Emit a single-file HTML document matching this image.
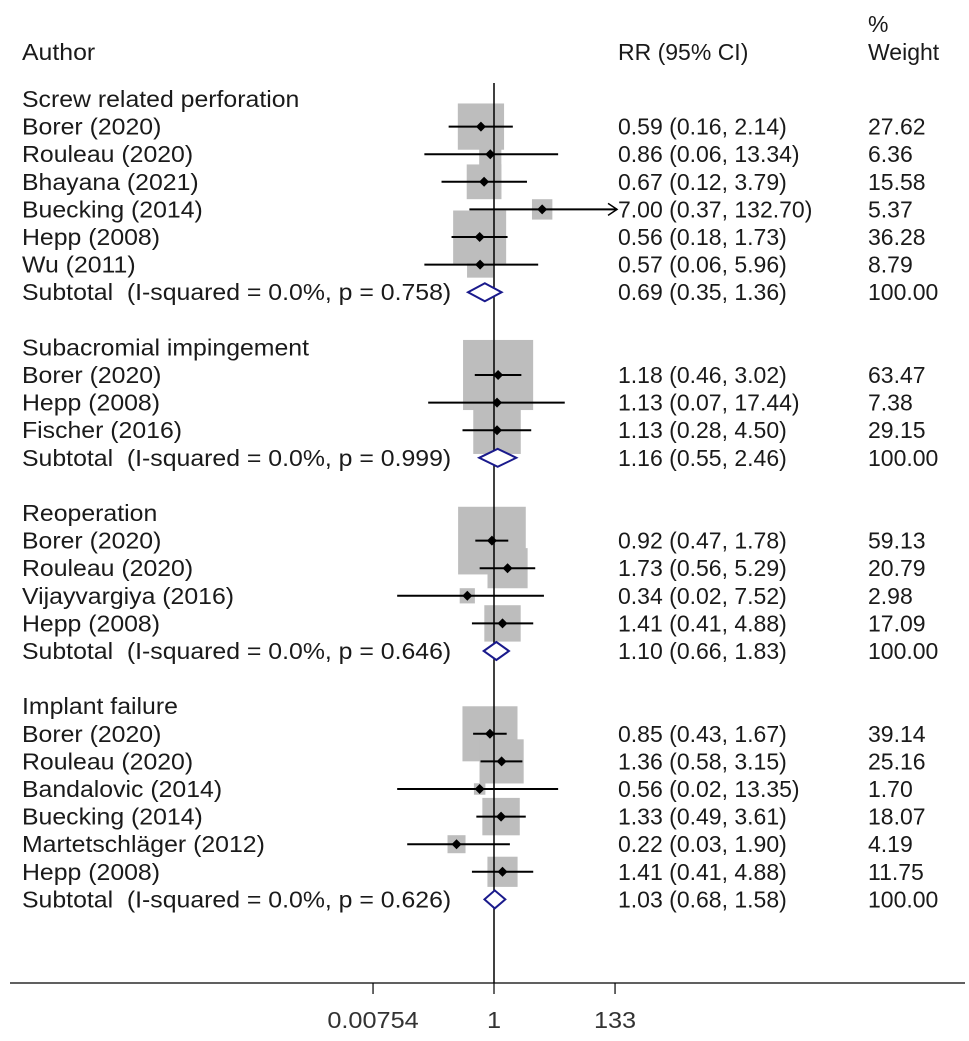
<!DOCTYPE html>
<html><head><meta charset="utf-8"><style>
html,body{margin:0;padding:0;background:#fff;}
svg{display:block;font-family:"Liberation Sans",Arial,sans-serif;}
</style></head><body>
<svg id="plot" width="969" height="1041" viewBox="0 0 969 1041"></svg>
<script>
const rowLabels=["Screw related perforation","Borer (2020)","Rouleau (2020)","Bhayana (2021)","Buecking (2014)","Hepp (2008)","Wu (2011)","Subtotal\u00a0 (I-squared = 0.0%, p = 0.758)","",
"Subacromial impingement","Borer (2020)","Hepp (2008)","Fischer (2016)","Subtotal\u00a0 (I-squared = 0.0%, p = 0.999)","",
"Reoperation","Borer (2020)","Rouleau (2020)","Vijayvargiya (2016)","Hepp (2008)","Subtotal\u00a0 (I-squared = 0.0%, p = 0.646)","",
"Implant failure","Borer (2020)","Rouleau (2020)","Bandalovic (2014)","Buecking (2014)","Martetschläger (2012)","Hepp (2008)","Subtotal\u00a0 (I-squared = 0.0%, p = 0.626)"];
const rowType=["h","s","s","s","s","s","s","t","",
"h","s","s","s","t","",
"h","s","s","s","s","t","",
"h","s","s","s","s","s","s","t"];
const rr=[null,0.59,0.86,0.67,7.00,0.56,0.57,0.69,null,null,1.18,1.13,1.13,1.16,null,null,0.92,1.73,0.34,1.41,1.10,null,null,0.85,1.36,0.56,1.33,0.22,1.41,1.03];
const lo=[null,0.16,0.06,0.12,0.37,0.18,0.06,0.35,null,null,0.46,0.07,0.28,0.55,null,null,0.47,0.56,0.02,0.41,0.66,null,null,0.43,0.58,0.02,0.49,0.03,0.41,0.68];
const hi=[null,2.14,13.34,3.79,132.70,1.73,5.96,1.36,null,null,3.02,17.44,4.50,2.46,null,null,1.78,5.29,7.52,4.88,1.83,null,null,1.67,3.15,13.35,3.61,1.90,4.88,1.58];
const weights=[null,27.62,6.36,15.58,5.37,36.28,8.79,100.00,null,null,63.47,7.38,29.15,100.00,null,null,59.13,20.79,2.98,17.09,100.00,null,null,39.14,25.16,1.70,18.07,4.19,11.75,100.00];
const tickValues=[0.00754,1,133];
const tickLabels=["0.00754","1","133"];

const NS="http://www.w3.org/2000/svg";
const svg=document.getElementById('plot');
function el(t,a,p){const e=document.createElementNS(NS,t);for(const k in a)e.setAttribute(k,a[k]);(p||svg).appendChild(e);return e;}
const x0=494, pxPerLn=24.75;
function X(v){return x0+Math.log(v)*pxPerLn;}
function Y(i){return 107+i*27.6;}
const fmt=v=>v.toFixed(2);
function txt(x,y,s,sx,anchor){
  const e=el('text',{transform:`translate(${x},${y}) scale(${sx},1)`,'font-size':23,fill:'#1a1a1a','text-anchor':anchor||'start'});
  e.textContent=s;return e;
}
let t;
t=txt(22,60,'Author',1.08);

t=txt(618,60,'RR (95% CI)',1.0);

t=txt(868,32,'%',1.0);

t=txt(868,60,'Weight',1.0);


for(let i=0;i<rowLabels.length;i++){
  if(rowType[i]==='s'){
    const s=8.8*Math.sqrt(weights[i]);
    const b=el('rect',{x:X(rr[i])-s/2,y:Y(i)-8-s/2,width:s,height:s,fill:'#bdbdbd'});
    
    
  }
}
let ln=el('line',{x1:x0,y1:83,x2:x0,y2:983,stroke:'#000','stroke-width':1.5});


const xMax=X(tickValues[2]);
for(let i=0;i<rowLabels.length;i++){
  const y=Y(i), cy=y-8;
  if(rowLabels[i]){
    const tx=txt(22,y,rowLabels[i],1.08);
    
    
  }
  if(rowType[i]==='s'||rowType[i]==='t'){
    const a=txt(618,y,fmt(rr[i])+' ('+fmt(lo[i])+', '+fmt(hi[i])+')',1.0);
    
    const w=txt(868,y,fmt(weights[i]),1.0);
    
  }
  if(rowType[i]==='s'){
    const arrow=hi[i]>=0.9*tickValues[2];
    const x2=arrow?xMax+2:X(hi[i]);
    const l=el('line',{x1:X(lo[i]),y1:cy,x2:x2,y2:cy,stroke:'#000','stroke-width':2});
    
    if(arrow){
      const ah=el('path',{d:`M${x2-9} ${cy-6} L${x2} ${cy} L${x2-9} ${cy+6}`,stroke:'#000','stroke-width':1.5,fill:'none'});
      
    }
    const px=X(rr[i]);
    const d=el('path',{d:`M${px-5} ${cy} L${px} ${cy-5} L${px+5} ${cy} L${px} ${cy+5}Z`,fill:'#000'});
    
  }
  if(rowType[i]==='t'){
    const a=X(lo[i]),b=X(hi[i]),c=X(rr[i]);
    const d=el('path',{d:`M${a} ${cy} L${c} ${cy-9} L${b} ${cy} L${c} ${cy+9}Z`,fill:'#fff',stroke:'#1a1a8c','stroke-width':2});
    
  }
}
let ax=el('line',{x1:10,y1:983,x2:965,y2:983,stroke:'#000','stroke-width':1.2});

for(let k=0;k<tickValues.length;k++){
  const tx=X(tickValues[k]);
  const tk=el('line',{x1:tx,y1:983,x2:tx,y2:994,stroke:'#000','stroke-width':1.2});
  
  const tl=txt(tx,1028,tickLabels[k],1.1,'middle');
  tl.setAttribute('fill','#333');
  
}
</script>
</body></html>
